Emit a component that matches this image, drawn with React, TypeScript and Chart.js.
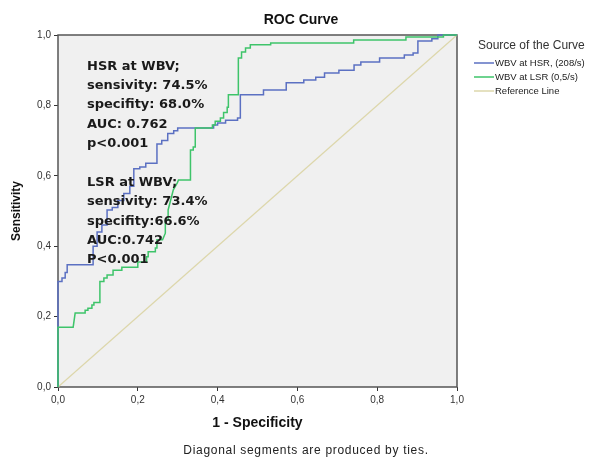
import React, { useEffect, useRef } from "react";
import { Chart, registerables } from "chart.js";

Chart.register(...registerables);

// ---- data ----
const hsrFpr = [0, 0, 0.01, 0.01, 0.018, 0.018, 0.023, 0.023, 0.088, 0.088, 0.098, 0.098, 0.11, 0.11, 0.123, 0.123, 0.136, 0.136, 0.15, 0.15, 0.165, 0.165, 0.18, 0.18, 0.19, 0.19, 0.205, 0.205, 0.22, 0.22, 0.248, 0.248, 0.26, 0.26, 0.275, 0.275, 0.29, 0.29, 0.3, 0.3, 0.39, 0.39, 0.4, 0.4, 0.42, 0.42, 0.45, 0.45, 0.457, 0.457, 0.515, 0.515, 0.572, 0.572, 0.616, 0.616, 0.646, 0.646, 0.668, 0.668, 0.704, 0.704, 0.742, 0.742, 0.759, 0.759, 0.806, 0.806, 0.868, 0.868, 0.89, 0.89, 0.902, 0.902, 0.937, 0.937, 0.952, 0.952, 1];
const hsrTpr = [0, 0.3, 0.3, 0.31, 0.31, 0.325, 0.325, 0.347, 0.347, 0.4, 0.4, 0.44, 0.44, 0.46, 0.46, 0.503, 0.503, 0.51, 0.51, 0.53, 0.53, 0.55, 0.55, 0.57, 0.57, 0.62, 0.62, 0.625, 0.625, 0.636, 0.636, 0.69, 0.69, 0.7, 0.7, 0.72, 0.72, 0.728, 0.728, 0.736, 0.736, 0.744, 0.744, 0.75, 0.75, 0.758, 0.758, 0.764, 0.764, 0.83, 0.83, 0.844, 0.844, 0.864, 0.864, 0.872, 0.872, 0.88, 0.88, 0.892, 0.892, 0.9, 0.9, 0.915, 0.915, 0.923, 0.923, 0.935, 0.935, 0.943, 0.943, 0.949, 0.949, 0.983, 0.983, 0.989, 0.989, 1, 1];

const lsrFpr = [0, 0, 0.038, 0.043, 0.068, 0.068, 0.075, 0.075, 0.085, 0.085, 0.09, 0.09, 0.105, 0.105, 0.115, 0.115, 0.123, 0.123, 0.138, 0.138, 0.16, 0.16, 0.2, 0.2, 0.222, 0.222, 0.226, 0.226, 0.244, 0.244, 0.248, 0.248, 0.262, 0.269, 0.269, 0.276, 0.276, 0.289, 0.299, 0.302, 0.332, 0.332, 0.339, 0.339, 0.344, 0.344, 0.387, 0.387, 0.394, 0.394, 0.407, 0.407, 0.415, 0.415, 0.424, 0.424, 0.427, 0.427, 0.452, 0.452, 0.46, 0.46, 0.47, 0.47, 0.482, 0.482, 0.533, 0.533, 0.741, 0.741, 0.872, 0.872, 0.966, 0.966, 1];
const lsrTpr = [0, 0.17, 0.17, 0.21, 0.21, 0.218, 0.218, 0.224, 0.224, 0.233, 0.233, 0.24, 0.24, 0.3, 0.3, 0.31, 0.31, 0.318, 0.318, 0.332, 0.332, 0.34, 0.34, 0.355, 0.355, 0.37, 0.37, 0.384, 0.384, 0.395, 0.395, 0.418, 0.418, 0.437, 0.474, 0.474, 0.503, 0.56, 0.58, 0.588, 0.588, 0.673, 0.673, 0.682, 0.682, 0.736, 0.736, 0.744, 0.744, 0.755, 0.755, 0.764, 0.764, 0.78, 0.78, 0.795, 0.795, 0.83, 0.83, 0.935, 0.935, 0.952, 0.952, 0.963, 0.963, 0.972, 0.972, 0.977, 0.977, 0.986, 0.986, 0.994, 0.994, 1, 1];

const refFpr = [0, 1];
const refTpr = [0, 1];

const seriesLabels = ["WBV at HSR, (208/s)", "WBV at LSR (0,5/s)", "Reference Line"];
const seriesColors = ["#5b70c2", "#3ec46a", "#ddd7ab"];
const axisTicks = [0, 0.2, 0.4, 0.6, 0.8, 1.0];

const chartTitle = "ROC Curve";
const xTitle = "1 - Specificity";
const yTitle = "Sensitivity";
const legendTitle = "Source of the Curve";
const footnote = "Diagonal segments are produced by ties.";
const hsrNote = ["HSR at WBV;", "sensivity: 74.5%", "specifity: 68.0%", "AUC: 0.762", "p<0.001"];
const lsrNote = ["LSR at WBV;", "sensivity: 73.4%", "specifity:66.6%", "AUC:0.742", "P<0.001"];

const toPoints = (xs: number[], ys: number[]) => xs.map((x, i) => ({ x, y: ys[i] }));
const fmt = (v: number) => v.toFixed(1).replace(".", ",");

const decorPlugin = {
  id: "decor",
  beforeDraw(chart: any) {
    const { ctx, chartArea: a, width, height } = chart;
    ctx.save();
    ctx.fillStyle = "#ffffff";
    ctx.fillRect(0, 0, width, height);
    ctx.fillStyle = "#f0f0f0";
    ctx.fillRect(a.left, a.top, a.right - a.left, a.bottom - a.top);
    ctx.restore();
  },
  beforeDatasetsDraw(chart: any) {
    const { ctx, chartArea: a } = chart;
    ctx.save();
    ctx.strokeStyle = "#555555";
    ctx.lineWidth = 1.5;
    ctx.strokeRect(a.left, a.top, a.right - a.left, a.bottom - a.top);
    ctx.restore();
  },
  afterDraw(chart: any) {
    const { ctx, chartArea: a } = chart;
    const xs = chart.scales.x;
    ctx.save();
    // chart title
    ctx.fillStyle = "#111";
    ctx.textAlign = "center";
    ctx.textBaseline = "middle";
    ctx.font = "bold 14px 'Liberation Sans', Arial, sans-serif";
    ctx.fillText(chartTitle, 301, 20);
    // x title
    ctx.font = "bold 14px 'Liberation Sans', Arial, sans-serif";
    ctx.fillText(xTitle, (a.left + a.right) / 2, 423);
    // y title
    ctx.save();
    ctx.translate(17, (a.top + a.bottom) / 2);
    ctx.rotate(-Math.PI / 2);
    ctx.font = "bold 12px 'Liberation Sans', Arial, sans-serif";
    ctx.fillText(yTitle, 0, 0);
    ctx.restore();
    // footnote
    ctx.fillStyle = "#222";
    ctx.font = "12px 'Liberation Sans', Arial, sans-serif";
    (ctx as any).letterSpacing = "0.7px";
    ctx.fillText(footnote, 306, 451);
    (ctx as any).letterSpacing = "0px";
    // annotations
    ctx.textAlign = "left";
    ctx.fillStyle = "#1a1a1a";
    ctx.font = "bold 13px 'DejaVu Sans', Verdana, sans-serif";
    const noteX = xs.getPixelForValue(0) + 29;
    const hsrY = [67, 86, 105, 125, 144];
    const lsrY = [183, 202, 222, 241, 260];
    hsrNote.forEach((t, i) => ctx.fillText(t, noteX, hsrY[i]));
    lsrNote.forEach((t, i) => ctx.fillText(t, noteX, lsrY[i]));
    // legend
    ctx.fillStyle = "#333";
    ctx.font = "12px 'Liberation Sans', Arial, sans-serif";
    ctx.fillText(legendTitle, 478, 46);
    ctx.font = "9.5px 'Liberation Sans', Arial, sans-serif";
    const legY = [63, 77, 91];
    seriesLabels.forEach((lab, i) => {
      ctx.strokeStyle = seriesColors[i];
      ctx.lineWidth = 1.5;
      ctx.beginPath();
      ctx.moveTo(474, legY[i]);
      ctx.lineTo(494, legY[i]);
      ctx.stroke();
      ctx.fillStyle = "#222";
      ctx.fillText(lab, 495, legY[i]);
    });
    ctx.restore();
  },
};

export default function App() {
  const ref = useRef<HTMLCanvasElement | null>(null);
  useEffect(() => {
    if (!ref.current) return;
    const chart = new Chart(ref.current, {
      type: "line",
      data: {
        datasets: [
          {
            label: seriesLabels[2],
            data: toPoints(refFpr, refTpr),
            borderColor: seriesColors[2],
            borderWidth: 1.2,
            order: 3,
          },
          {
            label: seriesLabels[0],
            data: toPoints(hsrFpr, hsrTpr),
            borderColor: seriesColors[0],
            borderWidth: 1.5,
            order: 2,
          },
          {
            label: seriesLabels[1],
            data: toPoints(lsrFpr, lsrTpr),
            borderColor: seriesColors[1],
            borderWidth: 1.5,
            order: 1,
          },
        ],
      },
      options: {
        animation: false,
        responsive: false,
        devicePixelRatio: 1,
        parsing: false as any,
        elements: { point: { radius: 0 }, line: { tension: 0 } },
        layout: { padding: { left: 0, top: 35, right: 145, bottom: 0 } },
        plugins: { legend: { display: false }, title: { display: false }, tooltip: { enabled: false } },
        datasets: { line: { clip: 3 as any } },
        scales: {
          x: {
            type: "linear",
            min: 0,
            max: 1,
            afterFit: (s: any) => { s.height = 70; },
            afterBuildTicks: (s: any) => { s.ticks = axisTicks.map((v) => ({ value: v })); },
            ticks: { callback: (v: any) => fmt(Number(v)), color: "#333", font: { size: 10, family: "'Liberation Sans', Arial, sans-serif" }, padding: 3, maxRotation: 0 },
            grid: { drawOnChartArea: false, drawTicks: true, tickLength: 4, color: "#333" },
            border: { display: false },
          },
          y: {
            type: "linear",
            min: 0,
            max: 1,
            afterFit: (s: any) => { s.width = 58; },
            afterBuildTicks: (s: any) => { s.ticks = axisTicks.map((v) => ({ value: v })); },
            ticks: { callback: (v: any) => fmt(Number(v)), color: "#333", font: { size: 10, family: "'Liberation Sans', Arial, sans-serif" }, padding: 3 },
            grid: { drawOnChartArea: false, drawTicks: true, tickLength: 4, color: "#333" },
            border: { display: false },
          },
        },
      },
      plugins: [decorPlugin],
    });
    return () => chart.destroy();
  }, []);
  return (
    <div style={{ position: "absolute", left: 0, top: 0, width: 602, height: 457 }}>
      <canvas ref={ref} width={602} height={457} />
    </div>
  );
}
